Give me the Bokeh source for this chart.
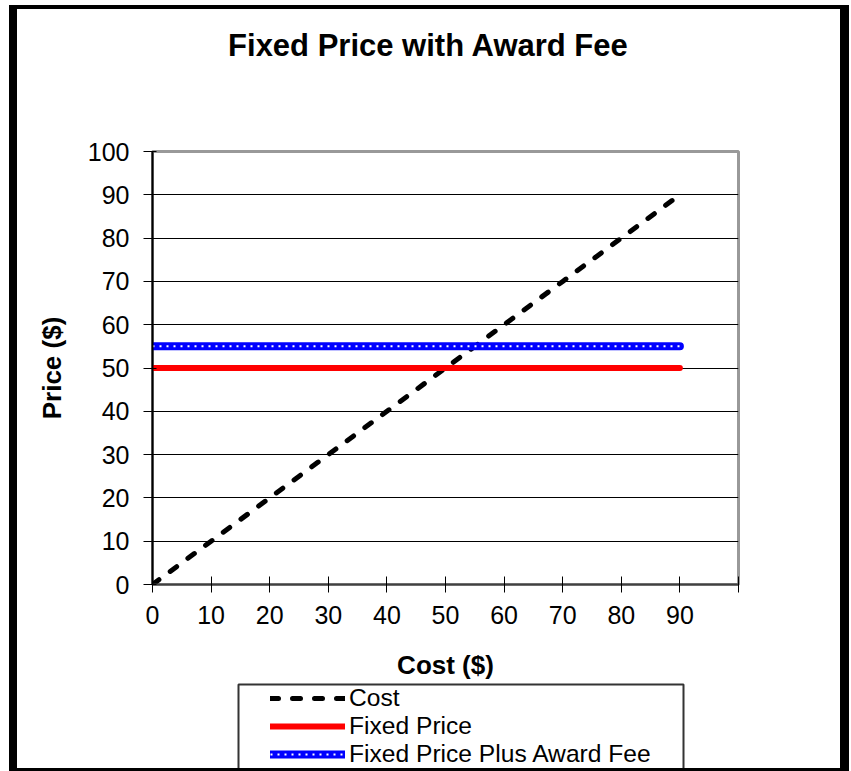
from bokeh.plotting import figure
from bokeh.models import Range1d, FixedTicker, Legend, LegendItem, Label
from bokeh.embed import file_html
from bokeh.resources import INLINE

# ---- data ----
x_cost = [0, 10, 20, 30, 40, 50, 60, 70, 80, 90]
cost = [0, 10, 20, 30, 40, 50, 60, 70, 80, 90]
fixed_price = [50, 50, 50, 50, 50, 50, 50, 50, 50, 50]
fixed_plus_award = [55, 55, 55, 55, 55, 55, 55, 55, 55, 55]
x_ticks = [0, 10, 20, 30, 40, 50, 60, 70, 80, 90, 100]
y_ticks = [0, 10, 20, 30, 40, 50, 60, 70, 80, 90, 100]
chart_title = "Fixed Price with Award Fee"

FONT = "Liberation Sans"
W = 840


def draw_lines(fig):
    r_cost = fig.line(x_cost, cost, line_color="black", line_width=5,
                      line_dash="8 14", line_cap="round")
    r_fp = fig.line(x_cost, fixed_price, line_color="#ff0000", line_width=6, line_cap="round")
    r_aw = fig.line(x_cost, fixed_plus_award, line_color="#0000ff", line_width=8, line_cap="round")
    r_aw2 = fig.line(x_cost, fixed_plus_award, line_color="white", line_width=2, line_dash="2 5")
    return r_cost, r_fp, r_aw, r_aw2


def bare(fig):
    fig.grid.visible = False
    fig.background_fill_color = "white"
    fig.border_fill_color = "white"


# ---------------- title strip ----------------
t = figure(width=W, height=95, output_backend="svg", toolbar_location=None,
           x_range=Range1d(0, 1), y_range=Range1d(0, 1),
           x_axis_location=None, y_axis_location=None,
           min_border_left=0, min_border_right=0, min_border_top=0, min_border_bottom=0)
t.styles = {"border-style": "solid", "border-color": "black",
            "border-width": "4px 9px 0px 8px", "margin-left": "9px", "margin-top": "5px"}
bare(t)
t.outline_line_color = None
t.add_layout(Label(x=411, y=59, x_units="screen", y_units="screen", text=chart_title,
                   text_align="center", text_baseline="middle", text_font=FONT,
                   text_font_size="31px", text_font_style="bold", text_color="black"))

# ---------------- main chart ----------------
p = figure(width=W, height=583, output_backend="svg", toolbar_location=None,
           x_range=Range1d(0, 100), y_range=Range1d(0, 100),
           min_border_left=135, min_border_right=119,
           min_border_top=51, min_border_bottom=99)
p.styles = {"border-style": "solid", "border-color": "black",
            "border-width": "0px 9px 0px 8px", "margin-left": "9px"}
bare(p)
p.outline_line_color = "#999999"
p.outline_line_width = 3

p.ygrid.visible = True
p.ygrid.ticker = FixedTicker(ticks=y_ticks)
p.ygrid.grid_line_color = "black"
p.ygrid.grid_line_width = 1

p.xaxis.ticker = FixedTicker(ticks=x_ticks)
p.xaxis.major_label_overrides = {100: ""}
p.yaxis.ticker = FixedTicker(ticks=y_ticks)
for ax in (p.xaxis[0], p.yaxis[0]):
    ax.minor_tick_line_color = None
    ax.major_label_text_font = FONT
    ax.major_label_text_font_size = "25px"
    ax.major_label_text_color = "black"
    ax.axis_label_text_font = FONT
    ax.axis_label_text_font_size = "26px"
    ax.axis_label_text_font_style = "bold"
    ax.axis_label_text_color = "black"
    ax.major_tick_line_color = "black"
    ax.major_tick_line_width = 1

p.xaxis.axis_label = "Cost ($)"
p.xaxis.axis_line_color = "#404040"
p.xaxis.axis_line_width = 2
p.xaxis.major_tick_in = 8
p.xaxis.major_tick_out = 8
p.xaxis.major_label_standoff = 13
p.xaxis.axis_label_standoff = 23

p.yaxis.axis_label = "Price ($)"
p.yaxis.axis_line_color = "black"
p.yaxis.axis_line_width = 2
p.yaxis.major_tick_in = 4
p.yaxis.major_tick_out = 9
p.yaxis.major_label_standoff = 14
p.yaxis.axis_label_standoff = 18

draw_lines(p)

# ---------------- legend strip ----------------
q = figure(width=W, height=88, output_backend="svg", toolbar_location=None,
           x_range=Range1d(0, 100), y_range=Range1d(1000, 1001),
           x_axis_location=None, y_axis_location=None,
           min_border_left=221, min_border_right=174,
           min_border_top=1, min_border_bottom=0)
q.styles = {"border-style": "solid", "border-color": "black",
            "border-width": "0px 9px 3px 8px", "margin-left": "9px"}
bare(q)
q.outline_line_color = "#333333"
q.outline_line_width = 2

lc, lf, la, la2 = draw_lines(q)   # out of view; used only for the legend glyphs

legend = Legend(items=[
    LegendItem(label="Cost", renderers=[lc]),
    LegendItem(label="Fixed Price", renderers=[lf]),
    LegendItem(label="Fixed Price Plus Award Fee", renderers=[la, la2]),
], location=(32, 3), padding=0, margin=0, spacing=0,
    glyph_width=75, glyph_height=28, label_height=28, label_standoff=4,
    border_line_alpha=0, background_fill_alpha=0,
    label_text_font=FONT, label_text_font_size="24.6px", label_text_color="black")
q.add_layout(legend)

open("out.html", "w").write(file_html((t, p, q), INLINE))
